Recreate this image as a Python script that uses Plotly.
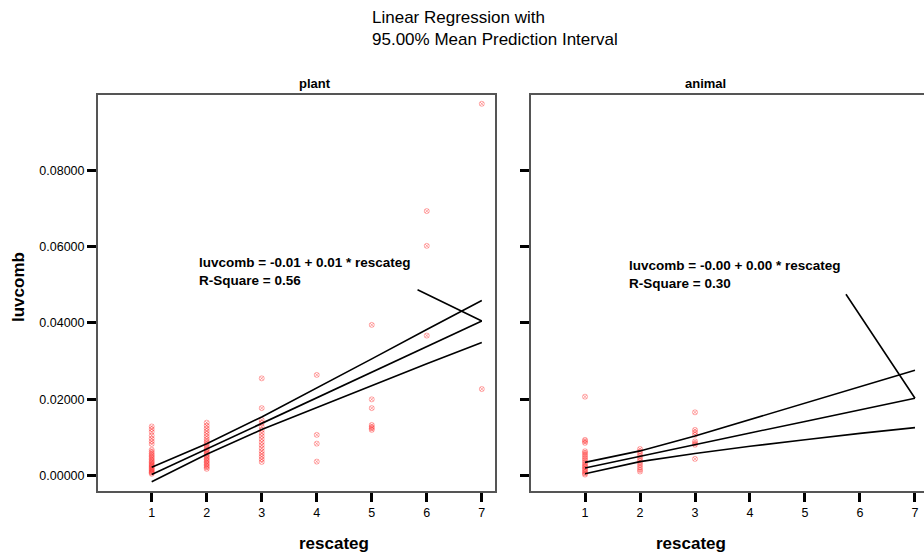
import plotly.graph_objects as go

# ---------------- data ----------------
rescateg = [1, 2, 3, 4, 5, 6, 7]

plant_groups = [
    [0.0129, 0.0122, 0.0115, 0.0105, 0.0097, 0.0090, 0.0083, 0.0068, 0.0063, 0.0058,
     0.0054, 0.0050, 0.0046, 0.0042, 0.0038, 0.0035, 0.0031, 0.0028, 0.0025, 0.0022,
     0.0019, 0.0016, 0.0013, 0.0010, 0.0008, 0.0005],
    [0.0139, 0.0131, 0.0124, 0.0117, 0.0110, 0.0103, 0.0096, 0.0090, 0.0085, 0.0080,
     0.0075, 0.0070, 0.0066, 0.0062, 0.0058, 0.0054, 0.0050, 0.0046, 0.0042, 0.0038,
     0.0034, 0.0030, 0.0026, 0.0022, 0.0018],
    [0.0255, 0.0177, 0.0146, 0.0138, 0.0128, 0.0120, 0.0112, 0.0104, 0.0096, 0.0088,
     0.0080, 0.0072, 0.0064, 0.0057, 0.0050, 0.0043, 0.0036],
    [0.0264, 0.0107, 0.0084, 0.0037],
    [0.0395, 0.0200, 0.0177, 0.0133, 0.0128, 0.0124, 0.0120],
    [0.0693, 0.0602, 0.0367],
    [0.0974, 0.0227],
]

animal_groups = [
    [0.0207, 0.0094, 0.0090, 0.0086, 0.0064, 0.0060, 0.0055, 0.0050, 0.0045, 0.0040,
     0.0035, 0.0030, 0.0026, 0.0022, 0.0018, 0.0014, 0.0010, 0.0006, 0.0003],
    [0.0070, 0.0064, 0.0058, 0.0052, 0.0046, 0.0040, 0.0034, 0.0028, 0.0022, 0.0016, 0.0011],
    [0.0166, 0.0120, 0.0114, 0.0107, 0.0090, 0.0085, 0.0081, 0.0044],
    [], [], [], [],
]

plant_fit = [0.0003, 0.0070, 0.0137, 0.0204, 0.0271, 0.0338, 0.0405]
plant_upper = [0.0022, 0.0084, 0.0154, 0.0229, 0.0306, 0.0383, 0.0459]
plant_lower = [-0.0016, 0.0056, 0.0121, 0.0179, 0.0236, 0.0293, 0.0349]

animal_fit = [0.0020, 0.0051, 0.0081, 0.0112, 0.0142, 0.0173, 0.0203]
animal_upper = [0.0035, 0.0065, 0.0104, 0.0147, 0.0190, 0.0235, 0.0276]
animal_lower = [0.0005, 0.0037, 0.0058, 0.0077, 0.0094, 0.0111, 0.0126]

y_ticks = [0.0, 0.02, 0.04, 0.06, 0.08]

title_text = "Linear Regression with<br>95.00% Mean Prediction Interval"
plant_eq = "luvcomb = -0.01 + 0.01 * rescateg<br>R-Square = 0.56"
animal_eq = "luvcomb = -0.00 + 0.00 * rescateg<br>R-Square = 0.30"

# ---------------- figure ----------------
FONT = "Liberation Sans, Arial, sans-serif"
fig = go.Figure()


def flatten(groups):
    xs, ys = [], []
    for xv, g in zip(rescateg, groups):
        for v in g:
            xs.append(xv)
            ys.append(v)
    return xs, ys


marker = dict(symbol="circle-x-open", size=5, color="rgba(255,40,40,0.4)",
              line=dict(width=1))

for groups, fit, up, lo, xa, ya in [
    (plant_groups, plant_fit, plant_upper, plant_lower, "x", "y"),
    (animal_groups, animal_fit, animal_upper, animal_lower, "x2", "y2"),
]:
    px, py = flatten(groups)
    fig.add_trace(go.Scatter(x=px, y=py, mode="markers", marker=marker,
                             xaxis=xa, yaxis=ya, showlegend=False, hoverinfo="x+y"))
    for series in (up, fit, lo):
        fig.add_trace(go.Scatter(x=rescateg, y=series, mode="lines",
                                 line=dict(color="black", width=1.6),
                                 xaxis=xa, yaxis=ya, showlegend=False))

axis_common = dict(
    showline=True, linecolor="#555555", linewidth=2,
    ticks="outside", ticklen=9, tickwidth=3, tickcolor="black",
    showgrid=False, zeroline=False,
    tickfont=dict(family=FONT, size=12.5, color="black"),
)

fig.update_layout(
    width=924, height=560,
    margin=dict(l=98, r=0, t=95, b=69),
    paper_bgcolor="white", plot_bgcolor="white",
    font=dict(family=FONT, color="black"),
    xaxis=dict(domain=[0, 397 / 826], range=[0.024, 7.24], tickvals=rescateg,
               mirror=True, **axis_common),
    yaxis=dict(domain=[0, 1], range=[-0.0040, 0.0997], tickvals=y_ticks,
               tickformat=".5f", mirror=True, **axis_common),
    xaxis2=dict(domain=[433 / 826, 1], range=[0.018, 7.164], tickvals=rescateg,
                anchor="y2", mirror=True, **axis_common),
    yaxis2=dict(domain=[0, 1], range=[-0.0040, 0.0997], tickvals=y_ticks,
                anchor="x2", showticklabels=False, **axis_common),
)

ann = []
# main title (two left-aligned lines)
ann.append(dict(text=title_text, x=(370 - 98) / 826, y=(491 - 6) / 396, xref="paper", yref="paper",
                xanchor="left", yanchor="top", align="left", showarrow=False,
                font=dict(size=17)))
# panel titles
ann.append(dict(text="<b>plant</b>", x=(397 / 826) / 2, y=1.028, xref="paper", yref="paper",
                showarrow=False, font=dict(size=13), yanchor="middle"))
ann.append(dict(text="<b>animal</b>", x=(433 / 826 + 1) / 2, y=1.028, xref="paper", yref="paper",
                showarrow=False, font=dict(size=13), yanchor="middle"))
# axis titles
ann.append(dict(text="<b>luvcomb</b>", x=-80 / 826, y=(491 - 287) / 396, xref="paper", yref="paper",
                textangle=-90, showarrow=False, font=dict(size=17), xanchor="center", yanchor="middle"))
ann.append(dict(text="<b>rescateg</b>", x=(397 / 826) / 2, y=(491 - 543) / 396, xref="paper", yref="paper",
                showarrow=False, font=dict(size=17), yanchor="middle"))
ann.append(dict(text="<b>rescateg</b>", x=(433 / 826 + 1) / 2, y=(491 - 543) / 396, xref="paper", yref="paper",
                showarrow=False, font=dict(size=17), yanchor="middle"))
# equations
ann.append(dict(text="<b>" + plant_eq.replace("<br>", "</b><br><b>") + "</b>", x=1.82, y=0.0536,
                xref="x", yref="y", xanchor="left", yanchor="middle", align="left",
                showarrow=False, font=dict(size=13.5)))
ann.append(dict(text="<b>" + animal_eq.replace("<br>", "</b><br><b>") + "</b>", x=1.76, y=0.0527,
                xref="x2", yref="y2", xanchor="left", yanchor="middle", align="left",
                showarrow=False, font=dict(size=13.5)))
# pointer lines to fitted line end
ann.append(dict(text="", x=rescateg[-1], y=plant_fit[-1], xref="x", yref="y",
                ax=5.805, ay=0.0489, axref="x", ayref="y", showarrow=True,
                arrowhead=0, arrowwidth=1.6, arrowcolor="black", standoff=0, startstandoff=0))
ann.append(dict(text="", x=rescateg[-1], y=animal_fit[-1], xref="x2", yref="y2",
                ax=5.727, ay=0.0479, axref="x2", ayref="y2", showarrow=True,
                arrowhead=0, arrowwidth=1.6, arrowcolor="black", standoff=0, startstandoff=0))
fig.update_layout(annotations=ann)

fig.write_html("out.html")
